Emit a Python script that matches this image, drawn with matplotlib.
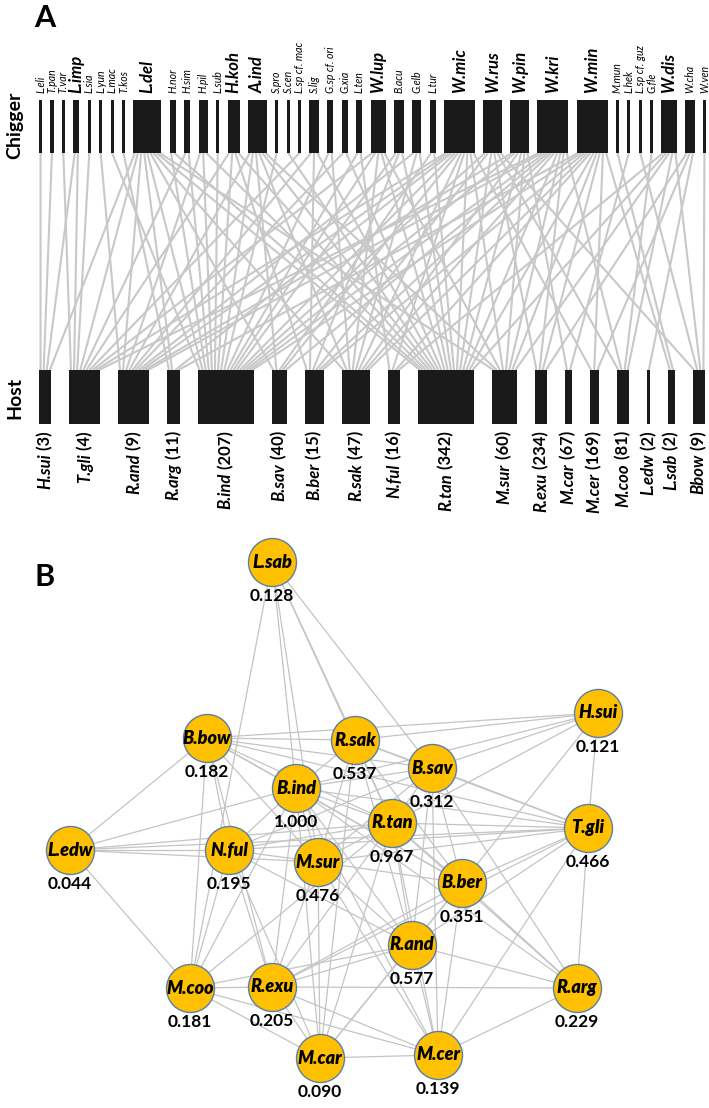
import matplotlib
matplotlib.use("Agg")
import matplotlib.pyplot as plt
import numpy as np

plt.rcParams['font.family'] = ['Lato', 'DejaVu Sans']

# ---------------- DATA ----------------
chiggers = ["L.eli", "T.pan", "T.var", "L.imp", "L.sia", "L.yun", "L.mac", "T.kos", "L.del",
            "H.nor", "H.sim", "H.pil", "L.sub", "H.koh", "A.ind", "S.pro", "S.cen",
            "L.sp cf. mac", "S.lig", "G.sp cf. ori", "G.xia", "L.ten", "W.lup", "B.acu",
            "G.elb", "L.tur", "W.mic", "W.rus", "W.pin", "W.kri", "W.min", "M.mun", "L.hek",
            "L.sp cf. guz", "G.fle", "W.dis", "W.cha", "W.ven"]
chigger_major = ["L.imp", "L.del", "H.koh", "A.ind", "W.lup", "W.mic", "W.rus", "W.pin",
                 "W.kri", "W.min", "W.dis"]

hosts = ["H.sui", "T.gli", "R.and", "R.arg", "B.ind", "B.sav", "B.ber", "R.sak", "N.ful",
         "R.tan", "M.sur", "R.exu", "M.car", "M.cer", "M.coo", "L.edw", "L.sab", "Bbow"]
host_counts = [3, 4, 9, 11, 207, 40, 15, 47, 16, 342, 60, 234, 67, 169, 81, 2, 2, 9]

# chigger -> host associations (approximate reading of the web)
links = {
    "L.eli": ["H.sui"],
    "T.pan": ["H.sui"],
    "T.var": ["T.gli"],
    "L.imp": ["H.sui", "T.gli"],
    "L.sia": ["T.gli"],
    "L.yun": ["R.and"],
    "L.mac": ["B.ind"],
    "T.kos": ["R.arg"],
    "L.del": ["H.sui", "T.gli", "R.and", "R.arg", "B.ind", "B.sav", "R.sak", "R.tan", "M.sur"],
    "H.nor": ["B.ind", "R.tan"],
    "H.sim": ["T.gli", "B.ind"],
    "H.pil": ["R.and", "B.ind", "R.tan"],
    "L.sub": ["B.ind"],
    "H.koh": ["T.gli", "B.ind", "B.ber", "R.tan"],
    "A.ind": ["R.and", "B.ind", "B.sav", "R.sak", "R.tan", "M.sur"],
    "S.pro": ["B.ind"],
    "S.cen": ["R.tan"],
    "L.sp cf. mac": ["T.gli"],
    "S.lig": ["R.and", "B.ber", "R.tan"],
    "G.sp cf. ori": ["B.ind", "R.sak"],
    "G.xia": ["R.and", "R.tan"],
    "L.ten": ["B.ind", "N.ful"],
    "W.lup": ["T.gli", "B.ind", "R.sak", "R.tan", "M.sur"],
    "B.acu": ["B.ind", "B.ber", "R.tan"],
    "G.elb": ["R.and", "R.sak", "R.tan"],
    "L.tur": ["B.sav", "R.tan"],
    "W.mic": ["T.gli", "R.and", "R.arg", "B.ind", "B.sav", "R.sak", "N.ful", "R.tan", "M.sur", "M.cer"],
    "W.rus": ["B.ind", "B.ber", "R.tan", "R.exu", "M.coo", "Bbow"],
    "W.pin": ["R.and", "B.ind", "R.sak", "R.tan", "M.sur", "M.car"],
    "W.kri": ["T.gli", "R.and", "B.ind", "B.sav", "B.ber", "R.sak", "R.tan", "M.sur", "R.exu", "M.coo"],
    "W.min": ["R.arg", "B.ind", "B.ber", "R.sak", "N.ful", "R.tan", "M.sur", "R.exu", "M.cer", "L.sab"],
    "M.mun": ["L.sab"],
    "L.hek": ["M.car"],
    "L.sp cf. guz": ["Bbow"],
    "G.fle": ["M.coo"],
    "W.dis": ["N.ful", "R.tan", "M.sur", "M.coo", "Bbow"],
    "W.cha": ["R.exu", "M.cer", "L.edw"],
    "W.ven": ["Bbow"],
}

# Panel B network
net_nodes = ["L.sab", "B.bow", "R.sak", "H.sui", "B.sav", "B.ind", "R.tan", "T.gli", "L.edw",
             "N.ful", "M.sur", "B.ber", "R.and", "R.arg", "M.coo", "R.exu", "M.car", "M.cer"]
net_values = [0.128, 0.182, 0.537, 0.121, 0.312, 1.000, 0.967, 0.466, 0.044,
              0.195, 0.476, 0.351, 0.577, 0.229, 0.181, 0.205, 0.090, 0.139]
net_edges = [
    ("L.sab", "R.sak"), ("L.sab", "B.sav"), ("L.sab", "B.ind"), ("L.sab", "M.sur"), ("L.sab", "M.coo"), ("L.sab", "R.tan"),
    ("B.bow", "R.sak"), ("B.bow", "B.sav"), ("B.bow", "B.ind"), ("B.bow", "R.tan"), ("B.bow", "L.edw"), ("B.bow", "N.ful"),
    ("B.bow", "M.coo"), ("B.bow", "R.exu"), ("B.bow", "M.sur"), ("B.bow", "B.ber"), ("B.bow", "H.sui"), ("B.bow", "T.gli"),
    ("H.sui", "R.sak"), ("H.sui", "B.sav"), ("H.sui", "B.ind"), ("H.sui", "R.tan"), ("H.sui", "T.gli"), ("H.sui", "B.ber"),
    ("T.gli", "B.ind"), ("T.gli", "R.sak"), ("T.gli", "B.sav"), ("T.gli", "R.tan"), ("T.gli", "L.edw"), ("T.gli", "N.ful"),
    ("T.gli", "M.sur"), ("T.gli", "B.ber"), ("T.gli", "R.and"), ("T.gli", "R.arg"), ("T.gli", "M.cer"), ("T.gli", "R.exu"),
    ("L.edw", "N.ful"), ("L.edw", "M.coo"), ("L.edw", "B.ind"), ("L.edw", "R.tan"), ("L.edw", "M.sur"),
    ("N.ful", "B.ind"), ("N.ful", "R.tan"), ("N.ful", "M.sur"), ("N.ful", "M.coo"), ("N.ful", "R.exu"), ("N.ful", "M.car"),
    ("N.ful", "B.sav"), ("N.ful", "R.and"),
    ("M.coo", "R.exu"), ("M.coo", "M.car"), ("M.coo", "M.cer"), ("M.coo", "R.and"), ("M.coo", "B.ind"), ("M.coo", "R.tan"),
    ("R.exu", "B.ind"), ("R.exu", "M.sur"), ("R.exu", "R.tan"), ("R.exu", "R.and"), ("R.exu", "M.car"), ("R.exu", "M.cer"),
    ("R.exu", "R.arg"), ("R.exu", "B.ber"),
    ("M.car", "M.sur"), ("M.car", "B.ind"), ("M.car", "R.tan"), ("M.car", "R.and"), ("M.car", "M.cer"), ("M.car", "B.ber"),
    ("M.car", "R.sak"),
    ("M.cer", "R.and"), ("M.cer", "B.ber"), ("M.cer", "R.arg"), ("M.cer", "R.tan"), ("M.cer", "B.ind"), ("M.cer", "M.sur"),
    ("M.cer", "B.sav"),
    ("R.arg", "B.ber"), ("R.arg", "R.and"), ("R.arg", "R.tan"), ("R.arg", "B.ind"), ("R.arg", "B.sav"),
    ("R.and", "B.ber"), ("R.and", "M.sur"), ("R.and", "R.tan"), ("R.and", "B.ind"), ("R.and", "B.sav"), ("R.and", "R.sak"),
    ("B.ber", "R.tan"), ("B.ber", "B.ind"), ("B.ber", "B.sav"), ("B.ber", "R.sak"), ("B.ber", "M.sur"),
    ("M.sur", "B.ind"), ("M.sur", "R.tan"), ("M.sur", "R.sak"), ("M.sur", "B.sav"),
    ("R.tan", "B.ind"), ("R.tan", "R.sak"), ("R.tan", "B.sav"),
    ("B.sav", "R.sak"), ("B.sav", "B.ind"),
    ("R.sak", "B.ind"),
]

# ---------------- LAYOUT (pixel space) ----------------
W, H = 709, 1108
node_pos = {
    "L.sab": (272, 562), "B.bow": (207, 738), "R.sak": (355, 740), "H.sui": (598, 713),
    "B.sav": (432, 768), "B.ind": (296, 788), "R.tan": (392, 823), "T.gli": (588, 828),
    "L.edw": (70, 850), "N.ful": (229, 850), "M.sur": (318, 862), "B.ber": (462, 883),
    "R.and": (412, 945), "R.arg": (577, 988), "M.coo": (190, 988), "R.exu": (272, 987),
    "M.car": (320, 1058), "M.cer": (438, 1055),
}

fig = plt.figure(figsize=(W / 100, H / 100), dpi=100)
ax = fig.add_axes([0, 0, 1, 1])
ax.set_xlim(0, W)
ax.set_ylim(H, 0)
ax.axis('off')

# degrees
c_deg = np.array([len(links[c]) for c in chiggers], dtype=float)
h_deg = np.array([sum(h in links[c] for c in chiggers) for h in hosts], dtype=float)


def layout(deg, x0, x1, gap):
    avail = (x1 - x0) - gap * (len(deg) - 1)
    w = deg / deg.sum() * avail
    left = x0 + np.concatenate([[0], np.cumsum(w[:-1] + gap)])
    return left, w


c_left, c_w = layout(c_deg, 39, 706, 8.3)
h_left, h_w = layout(h_deg, 39, 705, 18.0)

cy0, cy1 = 100, 153
hy0, hy1 = 370, 424

# links
c_slots = {}
for i, c in enumerate(chiggers):
    partners = sorted(links[c], key=lambda h: hosts.index(h))
    n = len(partners)
    for k, h in enumerate(partners):
        c_slots[(c, h)] = c_left[i] + (k + 0.5) * c_w[i] / n
h_slots = {}
for j, h in enumerate(hosts):
    partners = [c for c in chiggers if h in links[c]]
    n = len(partners)
    for k, c in enumerate(partners):
        h_slots[(c, h)] = h_left[j] + (k + 0.5) * h_w[j] / n

for (c, h), xc in c_slots.items():
    ax.plot([xc, h_slots[(c, h)]], [cy1, hy0], color='#c8c8c8', lw=1.5, zorder=1,
            solid_capstyle='butt')

ax.bar(c_left, cy1 - cy0, width=c_w, bottom=cy0, align='edge', color='#1a1a1a', zorder=2)
ax.bar(h_left, hy1 - hy0, width=h_w, bottom=hy0, align='edge', color='#1a1a1a', zorder=2)

# chigger labels
for i, c in enumerate(chiggers):
    xc = c_left[i] + c_w[i] / 2
    if c in chigger_major:
        ax.text(xc, 93, c, rotation=90, ha='center', va='bottom', fontsize=12,
                fontweight='bold', style='italic')
    else:
        ax.text(xc, 93, c, rotation=90, ha='center', va='bottom', fontsize=7.6,
                style='italic')

# host labels
fig.canvas.draw()
renderer = fig.canvas.get_renderer()
inv = ax.transData.inverted()
for j, h in enumerate(hosts):
    xc = h_left[j] + h_w[j] / 2
    t = ax.text(xc, 431, f" ({host_counts[j]})", rotation=90, ha='center', va='top',
                fontsize=12, fontweight='bold')
    bb = t.get_window_extent(renderer)
    ybot = inv.transform((0, bb.y0))[1]
    ax.text(xc, ybot, h, rotation=90, ha='center', va='top', fontsize=12,
            fontweight='bold', style='italic')

ax.text(15, 125, "Chigger", rotation=90, ha='center', va='center', fontsize=14, fontweight='bold')
ax.text(15, 398, "Host", rotation=90, ha='center', va='center', fontsize=14, fontweight='bold')
ax.text(45, 18, "A", ha='center', va='center', fontsize=22, fontweight='bold')
ax.text(45, 577, "B", ha='center', va='center', fontsize=22, fontweight='bold')

# network
for a, b in net_edges:
    (x1, y1), (x2, y2) = node_pos[a], node_pos[b]
    ax.plot([x1, x2], [y1, y2], color='#c4c4c4', lw=0.9, zorder=1)

nx_ = [node_pos[n][0] for n in net_nodes]
ny_ = [node_pos[n][1] for n in net_nodes]
ax.scatter(nx_, ny_, s=(2 * 24 * 0.72) ** 2, facecolor='#FFC000', edgecolor='#5a7fa8',
           linewidth=1.0, zorder=3)
for n, v in zip(net_nodes, net_values):
    x, y = node_pos[n]
    ax.text(x, y, n, ha='center', va='center', fontsize=13, fontweight='heavy',
            style='italic', zorder=4)
    ax.text(x, y + 34, f"{v:.3f}", ha='center', va='center', fontsize=12.5,
            fontweight='bold', zorder=4)

fig.savefig("out.png", dpi=100)
